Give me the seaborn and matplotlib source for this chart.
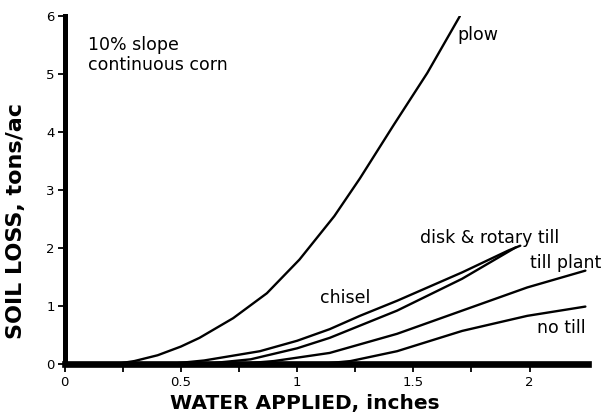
# Soil loss vs. water applied, by tillage system
import matplotlib
matplotlib.use('Agg')
import matplotlib.pyplot as plt
import pandas as pd
import seaborn as sns

# data
plow_x = [0.22, 0.30, 0.40, 0.50, 0.58, 0.725, 0.87, 1.01, 1.16, 1.27, 1.415, 1.56, 1.70]
plow_y = [0.00, 0.05, 0.15, 0.30, 0.45, 0.79, 1.22, 1.80, 2.55, 3.20, 4.12, 5.02, 6.00]
chisel_x = [0.45, 0.60, 0.84, 1.00, 1.14, 1.27, 1.43, 1.71, 1.91, 1.96]
chisel_y = [0.00, 0.06, 0.22, 0.40, 0.60, 0.83, 1.09, 1.58, 1.96, 2.04]
disk_x = [0.60, 0.80, 1.00, 1.14, 1.43, 1.71, 1.94]
disk_y = [0.00, 0.08, 0.27, 0.45, 0.92, 1.47, 2.01]
tillplant_x = [0.75, 0.90, 1.14, 1.43, 1.71, 1.99, 2.24]
tillplant_y = [0.00, 0.05, 0.19, 0.52, 0.92, 1.32, 1.61]
notill_x = [1.10, 1.23, 1.43, 1.71, 1.99, 2.24]
notill_y = [0.00, 0.05, 0.22, 0.57, 0.83, 0.99]

x_ticks = [0, 0.25, 0.5, 0.75, 1, 1.25, 1.5, 1.75, 2]
x_ticklabels = ['0', '', '0.5', '', '1', '', '1.5', '', '2']
y_ticks = [0, 1, 2, 3, 4, 5, 6]

curves = {
    'plow': (plow_x, plow_y),
    'chisel': (chisel_x, chisel_y),
    'disk & rotary till': (disk_x, disk_y),
    'till plant': (tillplant_x, tillplant_y),
    'no till': (notill_x, notill_y),
}
rows = []
for name, (xs, ys) in curves.items():
    for xv, yv in zip(xs, ys):
        rows.append({'system': name, 'water': xv, 'loss': yv})
df = pd.DataFrame(rows)

sns.set_style('white')
plt.rcParams['font.family'] = ['DejaVu Sans']
plt.rcParams['text.color'] = 'black'
plt.rcParams['axes.labelcolor'] = 'black'
plt.rcParams['xtick.color'] = 'black'
plt.rcParams['ytick.color'] = 'black'

fig = plt.figure(figsize=(6.04, 4.15), dpi=100)
ax = fig.add_axes([0.107, 0.123, 0.866, 0.838])

sns.lineplot(data=df, x='water', y='loss', units='system', estimator=None,
             sort=False, color='black', linewidth=1.7, ax=ax, legend=False)

ax.set_xlim(0, 2.25)
ax.set_ylim(0, 6)
for s in ['top', 'right']:
    ax.spines[s].set_visible(False)
ax.spines['left'].set_linewidth(3.6)
ax.spines['bottom'].set_linewidth(4.8)
ax.spines['left'].set_color('black')
ax.spines['bottom'].set_color('black')

ax.set_xticks(x_ticks)
ax.set_xticklabels(x_ticklabels)
ax.set_yticks(y_ticks)
ax.tick_params(axis='both', direction='out', length=5, width=1.3,
               labelsize=9.5, bottom=True, left=True)
ax.tick_params(axis='x', length=6, pad=3)
ax.tick_params(axis='y', pad=2)

ax.set_xlabel('WATER APPLIED, inches', fontsize=14.5, fontweight='bold')
ax.set_ylabel('SOIL LOSS, tons/ac', fontsize=16, fontweight='bold')
ax.xaxis.set_label_coords(0.46, -0.085)
ax.yaxis.set_label_coords(-0.073, 0.41)

lab = dict(fontsize=12.5, va='center')
ax.text(0.10, 5.51, '10% slope', **lab)
ax.text(0.10, 5.16, 'continuous corn', **lab)
ax.text(1.69, 5.67, 'plow', **lab)
ax.text(1.53, 2.17, 'disk & rotary till', **lab)
ax.text(2.00, 1.75, 'till plant', **lab)
ax.text(1.10, 1.14, 'chisel', **lab)
ax.text(2.03, 0.62, 'no till', **lab)

fig.savefig('out.png', dpi=100)
